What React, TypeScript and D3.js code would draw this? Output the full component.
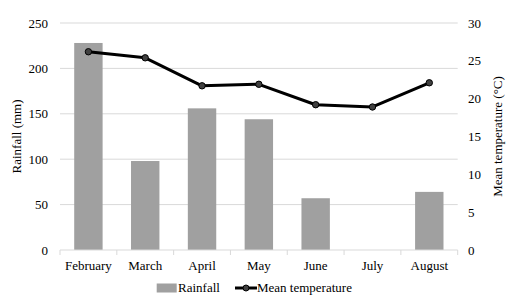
import React from "react";
import * as d3 from "d3";

const months = ["February", "March", "April", "May", "June", "July", "August"];
const rainfall = [228, 98, 156, 144, 57, 0, 64];
const temperature = [26.2, 25.4, 21.7, 21.9, 19.2, 18.9, 22.1];
const leftTicks = [0, 50, 100, 150, 200, 250];
const rightTicks = [0, 5, 10, 15, 20, 25, 30];

const W = 516, H = 304;
const plot = { left: 60, right: 457.7, top: 23, bottom: 250 };
const font = "'Liberation Serif', 'Times New Roman', serif";

export default function App() {
  const x = d3.scaleBand<string>().domain(months).range([plot.left, plot.right]).padding(0);
  const yL = d3.scaleLinear().domain([0, 250]).range([plot.bottom, plot.top]);
  const yR = d3.scaleLinear().domain([0, 30]).range([plot.bottom, plot.top]);
  const bw = x.bandwidth() * 0.5;
  const line = d3.line<number>()
    .x((_, i) => (x(months[i]) as number) + x.bandwidth() / 2)
    .y((d) => yR(d));
  return (
    <svg width={W} height={H} style={{ position: "absolute", left: 0, top: 0, background: "#fff" }}>
      {leftTicks.map((t) => (
        <g key={t}>
          {t > 0 && (
            <line x1={plot.left} x2={plot.right} y1={yL(t)} y2={yL(t)} stroke="#d9d9d9" strokeWidth={1} />
          )}
          <text x={48} y={yL(t)} dy="0.35em" textAnchor="end" fontFamily={font} fontSize={13} fill="#000">{t}</text>
        </g>
      ))}
      {rightTicks.map((t) => (
        <text key={t} x={468} y={yR(t)} dy="0.35em" textAnchor="start" fontFamily={font} fontSize={13} fill="#000">{t}</text>
      ))}
      {months.map((m, i) => (
        <rect key={m} x={(x(m) as number) + x.bandwidth() / 2 - bw / 2} y={yL(rainfall[i])}
          width={bw} height={plot.bottom - yL(rainfall[i])} fill="#a0a0a0" />
      ))}
      <line x1={plot.left} x2={plot.right} y1={plot.bottom} y2={plot.bottom} stroke="#d9d9d9" strokeWidth={1} />
      {[...months.map((m) => x(m) as number), plot.right].map((v, i) => (
        <line key={i} x1={v} x2={v} y1={plot.bottom} y2={plot.bottom + 5} stroke="#d9d9d9" strokeWidth={1} />
      ))}
      <path d={line(temperature) || ""} fill="none" stroke="#000" strokeWidth={3} strokeLinejoin="round" />
      {temperature.map((t, i) => (
        <circle key={i} cx={(x(months[i]) as number) + x.bandwidth() / 2} cy={yR(t)} r={3.2}
          fill="#404040" stroke="#000" strokeWidth={1} />
      ))}
      {months.map((m) => (
        <text key={m} x={(x(m) as number) + x.bandwidth() / 2} y={270} textAnchor="middle" fontFamily={font} fontSize={13} fill="#000">{m}</text>
      ))}
      <text transform={`translate(21,${(plot.top + plot.bottom) / 2}) rotate(-90)`} textAnchor="middle" fontFamily={font} fontSize={13} fill="#000">Rainfall (mm)</text>
      <text transform={`translate(493,${(plot.top + plot.bottom) / 2}) rotate(-90)`} dy="0.7em" textAnchor="middle" fontFamily={font} fontSize={13} fill="#000">Mean temperature (°C)</text>
      <rect x={156.7} y={283.5} width={20} height={9} fill="#a0a0a0" />
      <text x={178} y={292} fontFamily={font} fontSize={13} fill="#000">Rainfall</text>
      <line x1={235} x2={257} y1={288} y2={288} stroke="#000" strokeWidth={3} />
      <circle cx={246} cy={288} r={3} fill="#404040" stroke="#000" strokeWidth={1} />
      <text x={257} y={292} fontFamily={font} fontSize={13} fill="#000">Mean temperature</text>
    </svg>
  );
}
